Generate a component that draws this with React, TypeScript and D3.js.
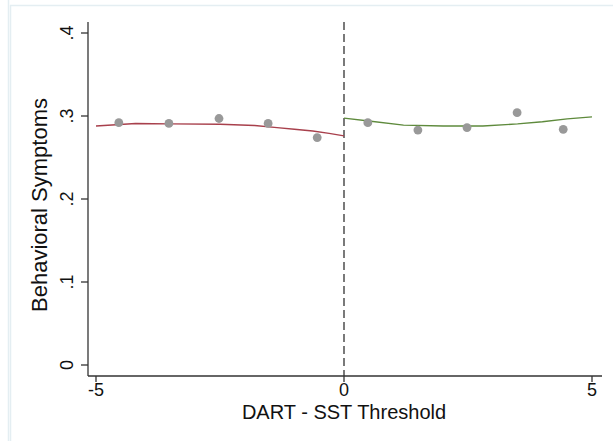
import React from 'react';
import * as d3 from 'd3';

// binned means
const leftBinsX = [-4.54, -3.53, -2.52, -1.53, -0.54];
const leftBinsY = [0.292, 0.291, 0.297, 0.291, 0.274];
const rightBinsX = [0.48, 1.49, 2.48, 3.49, 4.42];
const rightBinsY = [0.292, 0.283, 0.286, 0.304, 0.284];

// fitted lines
const leftFitX = [-5, -4.2, -3.5, -2.5, -1.8, -1.35, -1, -0.63, -0.3, 0];
const leftFitY = [0.288, 0.291, 0.2905, 0.29, 0.2885, 0.286, 0.284, 0.282, 0.279, 0.276];
const rightFitX = [0, 0.5, 1.2, 2, 2.8, 3.5, 4, 4.5, 5];
const rightFitY = [0.2975, 0.294, 0.289, 0.288, 0.288, 0.2905, 0.293, 0.2965, 0.299];

const xTicks = [-5, 0, 5];
const yTicks = [0, 0.1, 0.2, 0.3, 0.4];
const yTickLabels = ['0', '.1', '.2', '.3', '.4'];

const W = 613;
const H = 441;
const font = '"Liberation Sans", Arial, sans-serif';

export default function App() {
  const x = d3.scaleLinear().domain([-5, 5]).range([96, 592]);
  const y = d3.scaleLinear().domain([0, 0.4]).range([365, 33]);
  const axisY = 376;
  const axisX = 88;

  const line = d3.line<[number, number]>()
    .x(d => x(d[0]))
    .y(d => y(d[1]));

  const leftFit = leftFitX.map((v, i) => [v, leftFitY[i]] as [number, number]);
  const rightFit = rightFitX.map((v, i) => [v, rightFitY[i]] as [number, number]);

  return (
    <svg width={W} height={H} style={{ position: 'absolute', left: 0, top: 0, background: '#fff' }}>
      {/* faint outer frame */}
      <line x1={8.5} x2={8.5} y1={0} y2={H} stroke="#e4eef2" strokeWidth={1.5} />
      <line x1={10.5} x2={10.5} y1={5} y2={H} stroke="#e4eef2" strokeWidth={1.5} />
      <line x1={10} x2={W} y1={5.5} y2={5.5} stroke="#e4eef2" strokeWidth={1.5} />

      {/* axes */}
      <line x1={axisX} x2={axisX} y1={22} y2={axisY} stroke="#333" strokeWidth={1.3} />
      <line x1={axisX} x2={602} y1={axisY} y2={axisY} stroke="#333" strokeWidth={1.3} />

      {yTicks.map((t, i) => (
        <g key={'y' + i}>
          <line x1={axisX - 7} x2={axisX} y1={y(t)} y2={y(t)} stroke="#333" strokeWidth={1.3} />
          <text
            transform={`translate(${axisX - 15},${y(t)}) rotate(-90)`}
            textAnchor="middle"
            fontFamily={font}
            fontSize={18}
            fill="#111"
          >
            {yTickLabels[i]}
          </text>
        </g>
      ))}

      {xTicks.map((t, i) => (
        <g key={'x' + i}>
          <line x1={x(t)} x2={x(t)} y1={axisY} y2={axisY + 6} stroke="#333" strokeWidth={1.3} />
          <text x={x(t)} y={axisY + 20} textAnchor="middle" fontFamily={font} fontSize={18} fill="#111">
            {t}
          </text>
        </g>
      ))}

      <text
        transform={`translate(47,205) rotate(-90)`}
        textAnchor="middle"
        fontFamily={font}
        fontSize={22}
        fill="#111"
      >
        Behavioral Symptoms
      </text>
      <text x={x(0)} y={419} textAnchor="middle" fontFamily={font} fontSize={20} fill="#111">
        DART - SST Threshold
      </text>

      {/* cutoff */}
      <line x1={x(0)} x2={x(0)} y1={22} y2={axisY} stroke="#333" strokeWidth={1.3} strokeDasharray="8,4" />

      {/* fits */}
      <path d={line(leftFit) || ''} fill="none" stroke="#a8404c" strokeWidth={1.4} />
      <path d={line(rightFit) || ''} fill="none" stroke="#5e8a3c" strokeWidth={1.4} />

      {/* bins */}
      {leftBinsX.map((v, i) => (
        <circle key={'l' + i} cx={x(v)} cy={y(leftBinsY[i])} r={4.4} fill="#999" />
      ))}
      {rightBinsX.map((v, i) => (
        <circle key={'r' + i} cx={x(v)} cy={y(rightBinsY[i])} r={4.4} fill="#999" />
      ))}
    </svg>
  );
}
